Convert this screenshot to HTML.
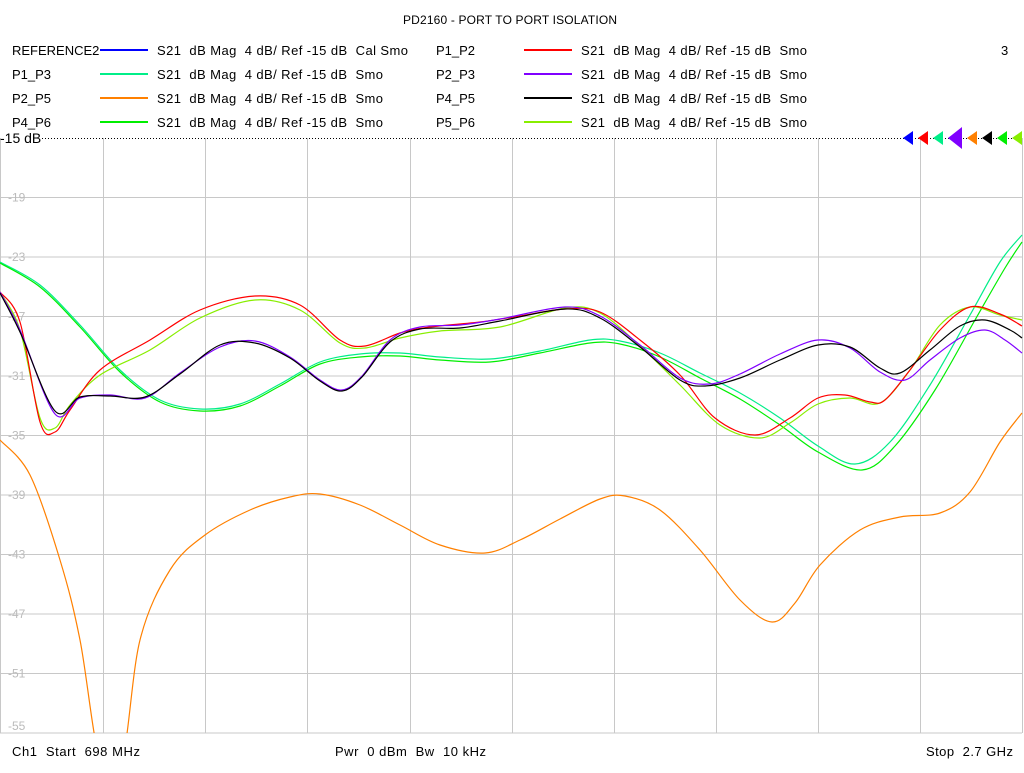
<!DOCTYPE html>
<html><head><meta charset="utf-8"><style>
body{margin:0;background:#fff;width:1024px;height:768px;overflow:hidden;font-family:"Liberation Sans",sans-serif;}
svg text{font-family:"Liberation Sans",sans-serif;white-space:pre;}
</style></head><body>
<svg id="s" width="1024" height="768" xmlns="http://www.w3.org/2000/svg" xml:space="preserve">
<rect width="1024" height="768" fill="#fff"/>
<text x="403" y="24" font-size="12" textLength="214">PD2160 - PORT TO PORT ISOLATION</text>
<g font-size="13" fill="#000">
<text x="12" y="55">REFERENCE2</text><line x1="100" y1="50" x2="148" y2="50" stroke="#0000ff" stroke-width="2"/><text x="157" y="55" textLength="251">S21  dB Mag  4 dB/ Ref -15 dB  Cal Smo</text>
<text x="436" y="55">P1_P2</text><line x1="524" y1="50" x2="572" y2="50" stroke="#ff0000" stroke-width="2"/><text x="581" y="55" textLength="226">S21  dB Mag  4 dB/ Ref -15 dB  Smo</text>
<text x="1001" y="55">3</text>
<text x="12" y="79">P1_P3</text><line x1="100" y1="74" x2="148" y2="74" stroke="#00ee88" stroke-width="2"/><text x="157" y="79" textLength="226">S21  dB Mag  4 dB/ Ref -15 dB  Smo</text>
<text x="436" y="79">P2_P3</text><line x1="524" y1="74" x2="572" y2="74" stroke="#8000ff" stroke-width="2"/><text x="581" y="79" textLength="226">S21  dB Mag  4 dB/ Ref -15 dB  Smo</text>
<text x="12" y="103">P2_P5</text><line x1="100" y1="98" x2="148" y2="98" stroke="#ff8000" stroke-width="2"/><text x="157" y="103" textLength="226">S21  dB Mag  4 dB/ Ref -15 dB  Smo</text>
<text x="436" y="103">P4_P5</text><line x1="524" y1="98" x2="572" y2="98" stroke="#000" stroke-width="2"/><text x="581" y="103" textLength="226">S21  dB Mag  4 dB/ Ref -15 dB  Smo</text>
<text x="12" y="127">P4_P6</text><line x1="100" y1="122" x2="148" y2="122" stroke="#00ee00" stroke-width="2"/><text x="157" y="127" textLength="226">S21  dB Mag  4 dB/ Ref -15 dB  Smo</text>
<text x="436" y="127">P5_P6</text><line x1="524" y1="122" x2="572" y2="122" stroke="#88ee00" stroke-width="2"/><text x="581" y="127" textLength="226">S21  dB Mag  4 dB/ Ref -15 dB  Smo</text>
</g>
<g id="grid" stroke="#c8c8c8" stroke-width="1"></g>
<g id="lab" font-size="12" fill="#bbb"></g>
<line x1="42" y1="138.5" x2="1022" y2="138.5" stroke="#000" stroke-dasharray="1,2"/>
<text x="0" y="143" font-size="14">-15 dB</text>
<g id="mk"></g>
<g id="curves" fill="none" stroke-width="1.2"></g>
<text x="12" y="756" font-size="13" textLength="128">Ch1  Start  698 MHz</text>
<text x="335" y="756" font-size="13" textLength="151">Pwr  0 dBm  Bw  10 kHz</text>
<text x="926" y="756" font-size="13" textLength="87">Stop  2.7 GHz</text>
<defs><clipPath id="c"><rect x="0" y="138" width="1024" height="595"/></clipPath></defs>
</svg>
<script>
const NS="http://www.w3.org/2000/svg";
function el(p,t,a){const e=document.createElementNS(NS,t);for(const k in a)e.setAttribute(k,a[k]);p.appendChild(e);return e;}
const g=document.getElementById('grid'),lab=document.getElementById('lab');
[0,103,205,307,410,512,614,716,818,920,1022].forEach(x=>el(g,'line',{x1:x+.5,y1:138,x2:x+.5,y2:733}));
for(let i=1;i<=10;i++){const y=138+i*59.5;el(g,'line',{x1:0,y1:y,x2:1022,y2:y});
 const t=el(lab,'text',{x:8,y:y+(i==10?-3:4)});t.textContent=String(-15-4*i);}
const mk=document.getElementById('mk');
[["#0000ff",913],["#ff0000",928],["#00ee88",943],["#8000ff",962],["#ff8000",977],["#000",992],["#00ee00",1007],["#88ee00",1022]].forEach(([c,x],i)=>{
 const s=i==3?11:7,w=i==3?14:10;el(mk,'polygon',{points:`${x-w},138 ${x},${138-s} ${x},${138+s}`,fill:c});});
function path(p){let d=`M${p[0][0]},${p[0][1]}`;for(let i=0;i<p.length-1;i++){const a=p[Math.max(0,i-1)],b=p[i],c=p[i+1],e=p[Math.min(p.length-1,i+2)];
 d+=` C${b[0]+(c[0]-a[0])/6},${b[1]+(c[1]-a[1])/6} ${c[0]-(e[0]-b[0])/6},${c[1]-(e[1]-b[1])/6} ${c[0]},${c[1]}`;}return d;}
const C=document.getElementById('curves');C.setAttribute('clip-path','url(#c)');
const S={
"#00ee88":[[0,262],[40,285],[80,325],[120,370],[160,400],[200,409],[240,404],[280,384],[320,362],[360,354],[400,353],[440,357],[490,359],[540,351],[590,340],[620,341],[660,353],[700,373],[740,393],[780,418],[818,446],[855,464],[890,442],[930,385],[970,315],[1000,262],[1022,235]],
"#00ee00":[[0,263],[40,287],[80,327],[120,372],[160,402],[200,411],[240,406],[280,386],[320,364],[360,357],[400,356],[440,360],[490,362],[540,353],[590,343],[620,344],[660,357],[700,378],[740,399],[780,425],[818,452],[862,470],[895,446],[935,390],[975,320],[1005,268],[1022,242]],
"#ff8000":[[0,440],[30,475],[60,560],[80,640],[100,760],[122,760],[140,640],[170,570],[205,535],[250,510],[290,497],[320,494],[360,505],[400,525],[440,545],[485,553],[520,540],[560,519],[600,499],[625,496],[660,510],[700,550],[740,600],[772,622],[795,603],[820,565],[860,530],[900,517],[940,513],[970,492],[1000,442],[1022,413]],
"#88ee00":[[0,292],[20,330],[40,418],[55,428],[70,405],[100,375],[150,350],[200,318],[255,300],[300,310],[340,343],[365,348],[400,338],[440,331],[500,327],[565,308],[600,313],[640,346],[680,385],[720,425],[760,438],[790,423],[818,404],[850,398],[880,403],[910,370],[940,325],[970,307],[1000,315],[1022,320]],
"#ff0000":[[0,292],[20,322],[40,422],[55,432],[70,410],[100,370],[150,340],[200,310],[255,296],[300,305],[340,340],[365,346],[400,333],[430,327],[480,322],[520,316],[565,309],[600,312],[640,340],[680,375],[715,418],[755,435],[790,418],[818,398],[845,395],[870,402],[885,400],[910,370],[940,330],[970,307],[1000,314],[1022,326]],
"#8000ff":[[0,292],[20,330],[55,414],[80,398],[110,395],[145,398],[180,373],[220,347],[255,341],[290,357],[320,380],[342,390],[362,376],[390,340],[420,327],[460,325],[500,319],[565,307],[600,316],[640,345],[680,378],[710,384],[740,374],[780,354],[818,340],[850,348],[880,372],[905,380],[930,360],[960,338],[985,330],[1005,340],[1022,353]],
"#000000":[[0,293],[20,332],[55,411],[80,397],[110,396],[145,397],[180,374],[220,345],[255,343],[290,358],[320,381],[342,391],[362,377],[390,342],[420,329],[460,328],[500,321],[565,309],[600,318],[640,347],[680,380],[705,386],[740,378],[780,360],[818,345],[850,347],[880,368],[900,373],[930,350],[960,326],[985,320],[1010,330],[1022,338]]};
for(const c in S)el(C,'path',{d:path(S[c]),stroke:c});
</script>
</body></html>
